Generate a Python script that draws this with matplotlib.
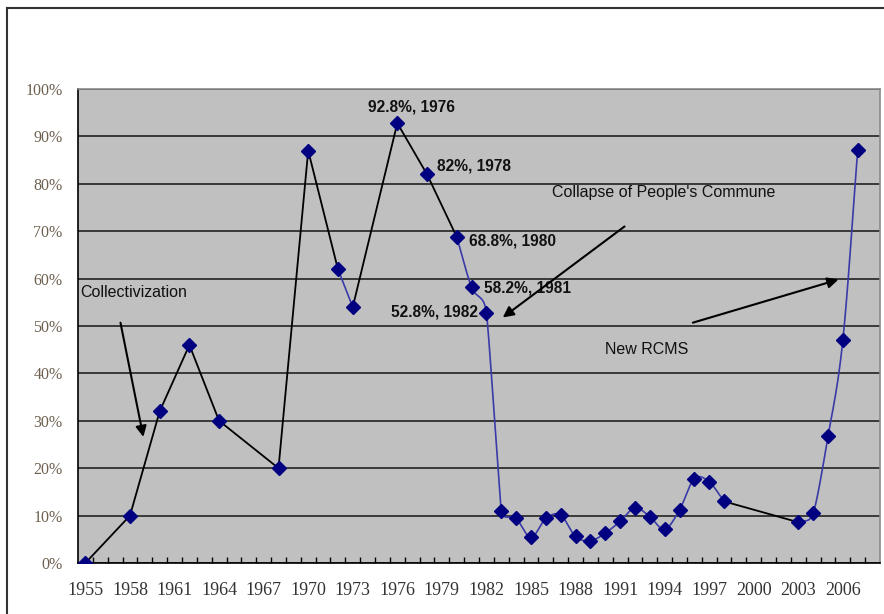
import numpy as np
import matplotlib
matplotlib.use("Agg")
import matplotlib.pyplot as plt
from matplotlib.lines import Line2D

# data
years = [1955, 1958, 1960, 1962, 1964, 1968, 1970, 1972, 1973, 1976, 1978,
         1980, 1981, 1982, 1983, 1984, 1985, 1986, 1987, 1988, 1989, 1990,
         1991, 1992, 1993, 1994, 1995, 1996, 1997, 1998, 2003, 2004, 2005,
         2006, 2007]
coverage = [0, 10, 32, 46, 30, 20, 87, 62, 54, 92.8, 82,
            68.8, 58.2, 52.8, 11, 9.4, 5.4, 9.4, 10.1, 5.6, 4.7, 6.3,
            8.8, 11.6, 9.8, 7.1, 11.2, 17.8, 17.1, 13.0, 8.6, 10.5, 26.7,
            47.1, 87.1]
# runs drawn as a smoothed blue line (first year, last year)
smooth_runs = [(1972, 1973), (1980, 1998), (2003, 2007)]

point_labels = ["92.8%, 1976", "82%, 1978", "68.8%, 1980", "58.2%, 1981", "52.8%, 1982"]
y_ticks = list(range(0, 101, 10))
x_label_years = list(range(1955, 2007, 3))

BG = "#c0c0c0"
NAVY = "#000080"
BLUE = "#3a3aa8"

# rough pixel size of one unit on each axis, used to keep the smoothing even
PX_X, PX_Y = 14.86, 4.73


def smooth(xs, ys, n=30):
    # bezier smoothing like a spreadsheet "smoothed line", tangents capped
    P = np.column_stack([np.asarray(xs) * PX_X, np.asarray(ys) * PX_Y]).astype(float)
    m = np.zeros_like(P)
    if len(P) > 2:
        m[1:-1] = (P[2:] - P[:-2]) / 2
    m[0] = P[1] - P[0]
    m[-1] = P[-1] - P[-2]
    chords = np.linalg.norm(np.diff(P, axis=0), axis=1)
    for i in range(len(P)):
        near = [chords[j] for j in (i - 1, i) if 0 <= j < len(chords)]
        cap = 2 * min(near)
        norm = np.linalg.norm(m[i])
        if norm > cap:
            m[i] *= cap / norm
    t = np.linspace(0, 1, n)[:, None]
    out = []
    for i in range(len(P) - 1):
        b0, b3 = P[i], P[i + 1]
        b1, b2 = b0 + m[i] / 3, b3 - m[i + 1] / 3
        seg = ((1 - t)**3 * b0 + 3 * (1 - t)**2 * t * b1
               + 3 * (1 - t) * t**2 * b2 + t**3 * b3)
        out.append(seg)
    out = np.vstack(out)
    return out[:, 0] / PX_X, out[:, 1] / PX_Y


fig = plt.figure(figsize=(8.84, 6.14), dpi=100)
ax = fig.add_axes([78 / 884, 1 - 563 / 614, 802 / 884, 474 / 614])
ax.set_facecolor(BG)

yrs = np.array(years)
vals = np.array(coverage)

# segments: black straight unless inside a smoothed run
in_run = lambda a, b: any(s <= a and b <= e for s, e in smooth_runs)
for i in range(len(yrs) - 1):
    if not in_run(yrs[i], yrs[i + 1]):
        ax.plot(yrs[i:i + 2], vals[i:i + 2], color="black", lw=1.3, zorder=3)
for s, e in smooth_runs:
    mask = (yrs >= s) & (yrs <= e)
    sx, sy = smooth(yrs[mask], vals[mask])
    ax.plot(sx, sy, color=BLUE, lw=1.2, zorder=3)

ax.plot(yrs, vals, ls="none", marker="D", ms=7.5, color=NAVY, zorder=4)

ax.set_xlim(1954.5, 2008.5)
ax.set_ylim(0, 100)

ax.set_yticks(y_ticks)
ax.set_yticklabels([f"{v}%" for v in y_ticks], family="Liberation Serif",
                   fontsize=11.5, color="#6e6050")
ax.tick_params(axis="y", length=0, pad=11)
ax.yaxis.grid(True, color="#222222", lw=1.2)
ax.set_axisbelow(True)

ax.set_xticks(x_label_years)
ax.set_xticklabels([str(y) for y in x_label_years], family="Liberation Serif",
                   fontsize=13, color="#333333")
ax.set_xticks(np.arange(1955.5, 2008.5, 1), minor=True)
ax.tick_params(axis="x", which="major", length=0, pad=14)
ax.tick_params(axis="x", which="minor", direction="in", length=4, width=1, color="black")

for side in ["left", "bottom"]:
    ax.spines[side].set_color("black")
    ax.spines[side].set_linewidth(1.2)
for side in ["top", "right"]:
    ax.spines[side].set_color("#8a8a8a")
    ax.spines[side].set_linewidth(1.2)

# point labels
lbl_font = dict(family="Liberation Sans", fontsize=11.2, fontweight="bold", color="#111111")
ax.text(1974.0, 96.2, point_labels[0], ha="left", va="center", **lbl_font)
ax.text(1978.7, 83.7, point_labels[1], ha="left", va="center", **lbl_font)
ax.text(1980.8, 67.9, point_labels[2], ha="left", va="center", **lbl_font)
ax.text(1981.85, 58.1, point_labels[3], ha="left", va="center", **lbl_font)
ax.text(1981.45, 52.9, point_labels[4], ha="right", va="center", **lbl_font)

# annotations with arrows
note_font = dict(family="Liberation Sans", fontsize=11.5, color="#111111")
arrow = dict(arrowstyle="-|>", color="black", lw=1.5, mutation_scale=16, shrinkA=0, shrinkB=0)
ax.text(1954.66, 57.1, "Collectivization", ha="left", va="center", **note_font)
ax.annotate("", xy=(1958.9, 26.6), xytext=(1957.36, 50.7), arrowprops=arrow)
ax.text(1986.4, 78.2, "Collapse of People's Commune", ha="left", va="center", **note_font)
ax.annotate("", xy=(1983.1, 51.8), xytext=(1991.3, 71.0), arrowprops=arrow)
ax.text(1990.0, 45.0, "New RCMS", ha="left", va="center", **note_font)
ax.annotate("", xy=(2005.7, 59.8), xytext=(1995.9, 50.7), arrowprops=arrow)

# outer frame (left and top edges visible in the source)
fig.add_artist(Line2D([7.5 / 884, 7.5 / 884], [0, 1 - 8 / 614], color="#333333", lw=1.5))
fig.add_artist(Line2D([7.5 / 884, 1], [1 - 8 / 614, 1 - 8 / 614], color="#333333", lw=1.5))

fig.savefig("out.png", dpi=100)
